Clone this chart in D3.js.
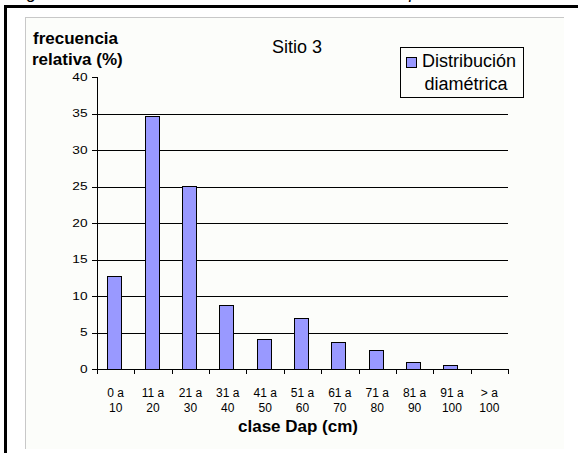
<!DOCTYPE html>
<html>
<head>
<meta charset="utf-8">
<script src="https://cdn.jsdelivr.net/npm/d3@7"></script>
<style>
  html, body { margin: 0; padding: 0; background: #fff; }
  svg { display: block; }
  text { font-family: "Liberation Sans", Arial, sans-serif; fill: #000; }
</style>
</head>
<body>
<svg id="chart" width="578" height="454"></svg>
<script>
// Diameter classes (cm), two-line labels
const classLine1 = ["0 a", "11 a", "21 a", "31 a", "41 a", "51 a", "61 a", "71 a", "81 a", "91 a", "> a"];
const classLine2 = ["10", "20", "30", "40", "50", "60", "70", "80", "90", "100", "100"];
// Relative frequency (%) per class
const frecuencia = [12.7, 34.7, 25.1, 8.8, 4.1, 7.0, 3.7, 2.6, 1.0, 0.5, 0];
const yTicks = [0, 5, 10, 15, 20, 25, 30, 35, 40];
const seriesName = ["Distribución", "diamétrica"];
const chartTitle = "Sitio 3";
const yTitle = ["frecuencia", "relativa (%)"];
const xTitle = "clase Dap (cm)";
const caption = "Figura 6. Distribución diamétrica del sitio 3 en el tipo";

const svg = d3.select("#chart");

// caption sitting above the frame (only its lower edge is in view)
svg.append("text")
  .attr("x", 12).attr("y", -2.5)
  .attr("font-size", 18).attr("font-style", "italic")
  .text(caption);

// outer black frame edges
svg.append("rect").attr("x", 4).attr("y", 5).attr("width", 574).attr("height", 3).attr("fill", "#000");
svg.append("rect").attr("x", 4).attr("y", 5).attr("width", 3).attr("height", 448).attr("fill", "#000");

// chart area
svg.append("rect").attr("x", 25).attr("y", 17).attr("width", 539).attr("height", 432).attr("fill", "#fcfdfa");
svg.append("line").attr("x1", 25.5).attr("x2", 25.5).attr("y1", 17).attr("y2", 449).attr("stroke", "#c8c8c8");
svg.append("line").attr("x1", 25).attr("x2", 564).attr("y1", 17.5).attr("y2", 17.5).attr("stroke", "#c8c8c8");

const plot = { left: 97, right: 508, top: 77, bottom: 369 };

const y = d3.scaleLinear().domain([0, 40]).range([plot.bottom, plot.top]);
const x = d3.scaleBand().domain(d3.range(classLine1.length))
  .range([plot.left, plot.right]).paddingInner(0.6).paddingOuter(0.3);
const edge = d3.scaleLinear().domain([0, classLine1.length]).range([plot.left, plot.right]);

// horizontal gridlines
svg.append("g").selectAll("line")
  .data(yTicks.filter(t => t > 0 && t < 40))
  .join("line")
  .attr("x1", plot.left).attr("x2", plot.right)
  .attr("y1", d => Math.round(y(d)) + 0.5).attr("y2", d => Math.round(y(d)) + 0.5)
  .attr("stroke", "#000");

// bars
svg.append("g").selectAll("rect")
  .data(frecuencia)
  .join("rect")
  .attr("x", (d, i) => Math.round(x(i)) - 0.5)
  .attr("y", d => Math.round(y(d)) + 0.5)
  .attr("width", Math.round(x.bandwidth()) - 1)
  .attr("height", d => Math.round(y(0)) - Math.round(y(d)))
  .attr("fill", "#9999ff")
  .attr("stroke", "#000")
  .attr("stroke-width", 1)
  .attr("display", d => d > 0 ? null : "none");

// y axis
const yAxis = svg.append("g");
yAxis.append("line")
  .attr("x1", plot.left + 0.5).attr("x2", plot.left + 0.5)
  .attr("y1", Math.round(y(40))).attr("y2", Math.round(y(0)) + 1)
  .attr("stroke", "#000");
yAxis.selectAll("line.tick")
  .data(yTicks).join("line").attr("class", "tick")
  .attr("x1", plot.left - 5).attr("x2", plot.left)
  .attr("y1", d => Math.round(y(d)) + 0.5).attr("y2", d => Math.round(y(d)) + 0.5)
  .attr("stroke", "#000");
yAxis.selectAll("text")
  .data(yTicks).join("text")
  .attr("x", 87.5).attr("y", d => y(d) + 3.6)
  .attr("text-anchor", "end")
  .attr("font-size", 10)
  .attr("textLength", d => String(d).length * 7.6)
  .attr("lengthAdjust", "spacingAndGlyphs")
  .text(d => d);

// x axis
const xAxis = svg.append("g");
xAxis.append("line")
  .attr("x1", plot.left).attr("x2", plot.right + 1)
  .attr("y1", Math.round(y(0)) + 0.5).attr("y2", Math.round(y(0)) + 0.5)
  .attr("stroke", "#000");
xAxis.selectAll("line.tick")
  .data(d3.range(classLine1.length + 1)).join("line").attr("class", "tick")
  .attr("x1", d => Math.round(edge(d)) + 0.5).attr("x2", d => Math.round(edge(d)) + 0.5)
  .attr("y1", Math.round(y(0))).attr("y2", Math.round(y(0)) + 5)
  .attr("stroke", "#000");
const xl = xAxis.selectAll("text.lbl")
  .data(classLine1).join("text").attr("class", "lbl")
  .attr("text-anchor", "middle")
  .attr("font-family", "'Liberation Sans Narrow', 'Arial Narrow', sans-serif")
  .attr("font-size", 12);
xl.append("tspan").attr("x", (d, i) => x(i) + x.bandwidth() / 2).attr("y", 397).text(d => d);
xl.append("tspan").attr("x", (d, i) => x(i) + x.bandwidth() / 2).attr("y", 411.5).text((d, i) => classLine2[i]);

// titles
svg.append("text").attr("x", 297).attr("y", 53)
  .attr("text-anchor", "middle").attr("font-size", 18).text(chartTitle);
svg.append("text").attr("x", 298).attr("y", 432)
  .attr("text-anchor", "middle").attr("font-size", 17).attr("font-weight", "bold").text(xTitle);
svg.append("text").attr("x", 33).attr("y", 44)
  .attr("font-size", 17).attr("font-weight", "bold").text(yTitle[0]);
svg.append("text").attr("x", 32).attr("y", 65)
  .attr("font-size", 17).attr("font-weight", "bold").text(yTitle[1]);

// legend
const lg = svg.append("g");
lg.append("rect").attr("x", 400.5).attr("y", 47.5).attr("width", 123).attr("height", 50)
  .attr("fill", "#fcfdfa").attr("stroke", "#000");
lg.append("rect").attr("x", 406.5).attr("y", 57.5).attr("width", 10).attr("height", 10)
  .attr("fill", "#9999ff").attr("stroke", "#000");
lg.append("text").attr("x", 422).attr("y", 67).attr("font-size", 18).text(seriesName[0]);
lg.append("text").attr("x", 466).attr("y", 89.5).attr("text-anchor", "middle")
  .attr("font-size", 18).text(seriesName[1]);
</script>
</body>
</html>
